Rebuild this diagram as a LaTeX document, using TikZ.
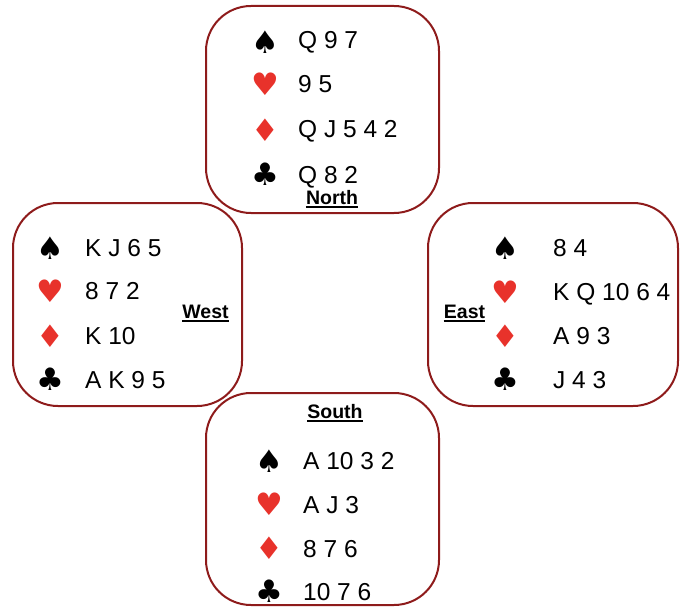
\documentclass[tikz,border=0pt]{standalone}
\usepackage{fontspec}
\setmainfont{Liberation Sans}
\newfontfamily\suitfont{DejaVu Sans}
\definecolor{boxred}{RGB}{142,27,27}
\definecolor{suitred}{RGB}{232,50,43}
\tikzset{
  hand/.style={draw=boxred, line width=2pt, rounded corners=45pt, inner sep=0pt},
  cards/.style={anchor=base west, inner sep=0pt, font=\fontsize{24.5}{24.5}\selectfont},
  suitb/.style={anchor=center, inner sep=0pt, font=\suitfont\fontsize{31}{31}\selectfont},
  rs/.style={suitb, text=suitred},
  seat/.style={anchor=base, inner sep=0pt, font=\bfseries\fontsize{19.5}{19.5}\selectfont},
  uline/.style={line width=1.6pt},
}
\begin{document}
\begin{tikzpicture}[x=1pt, y=-1pt]
\useasboundingbox (0,0) rectangle (685,607);
% boxes
\node[hand, minimum width=233pt, minimum height=207pt] (nbox) at (322.5,109.5) {};
\node[hand, minimum width=229pt, minimum height=203pt] (wbox) at (127.5,304.5) {};
\node[hand, minimum width=250pt, minimum height=203pt] (ebox) at (553,304.5) {};
\node[hand, minimum width=233pt, minimum height=212pt] (sbox) at (322.5,499) {};
% North
\node[suitb] (ns) at (265,42) {♠};
\node[rs]    (nh) at (265,84) {♥};
\node[rs]    (nd) at (265,130) {♦};
\node[suitb] (nc) at (265,174) {♣};
\node[cards] (nst) at (298,49) {Q 9 7};
\node[cards] (nht) at (298,93) {9 5};
\node[cards] (ndt) at (298,138) {Q J 5 4 2};
\node[cards] (nct) at (298,183) {Q 8 2};
\node[seat] (nl) at (332,204) {North};
\draw[uline] ([yshift=-3pt]nl.base west) -- ([yshift=-3pt]nl.base east);
% West
\node[suitb] (ws) at (50,248) {♠};
\node[rs]    (wh) at (50,291) {♥};
\node[rs]    (wd) at (50,336) {♦};
\node[suitb] (wc) at (50,379) {♣};
\node[cards] (wst) at (85,256) {K J 6 5};
\node[cards] (wht) at (85,299) {8 7 2};
\node[cards] (wdt) at (85,344) {K 10};
\node[cards] (wct) at (85,388) {A K 9 5};
\node[seat] (wl) at (205.5,318) {West};
\draw[uline] ([yshift=-3pt]wl.base west) -- ([yshift=-3pt]wl.base east);
% East
\node[suitb] (es) at (505,248) {♠};
\node[rs]    (eh) at (505,292) {♥};
\node[rs]    (ed) at (505,336) {♦};
\node[suitb] (ec) at (505,379) {♣};
\node[cards] (est) at (553,256) {8 4};
\node[cards] (eht) at (553,300) {K Q 10 6 4};
\node[cards] (edt) at (553,344) {A 9 3};
\node[cards] (ect) at (553,388) {J 4 3};
\node[seat] (el) at (464.5,318) {East};
\draw[uline] ([yshift=-3pt]el.base west) -- ([yshift=-3pt]el.base east);
% South
\node[suitb] (ss) at (269,461) {♠};
\node[rs]    (sh) at (269,504) {♥};
\node[rs]    (sd) at (269,548) {♦};
\node[suitb] (sc) at (269,591) {♣};
\node[cards] (sst) at (303,469) {A 10 3 2};
\node[cards] (sht) at (303,513) {A J 3};
\node[cards] (sdt) at (303,557) {8 7 6};
\node[cards] (sct) at (303,600) {10 7 6};
\node[seat] (sl) at (335,418) {South};
\draw[uline] ([yshift=-3pt]sl.base west) -- ([yshift=-3pt]sl.base east);
\end{tikzpicture}
\end{document}
